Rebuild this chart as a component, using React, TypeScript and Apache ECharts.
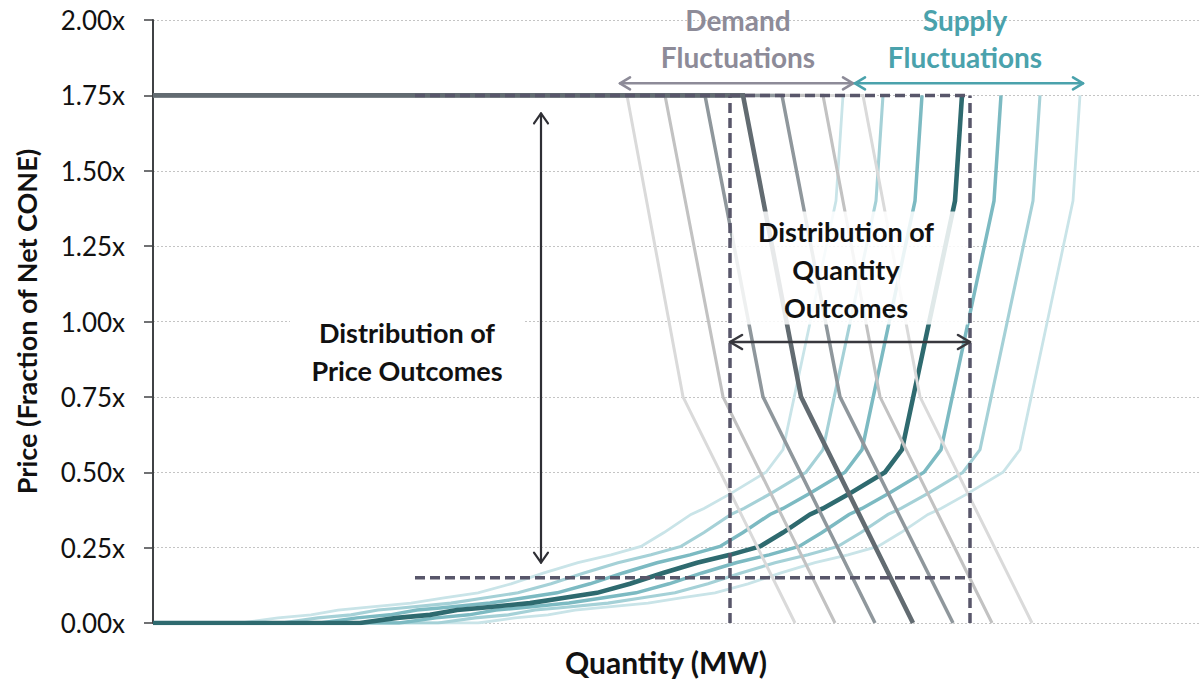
import React, { useEffect, useRef } from "react";
import * as echarts from "echarts";

// ---------- data (quantity in arbitrary MW units, price as fraction of Net CONE) ----------
const priceTickLabels = ["0.00x", "0.25x", "0.50x", "0.75x", "1.00x", "1.25x", "1.50x", "1.75x", "2.00x"];

// Demand curves: shared price breakpoints, quantity per curve
const demandPrices = [1.75, 1.75, 0.75, 0];
const demandM3 = [0, 474, 530, 642];
const demandM2 = [0, 512, 570, 682];
const demandM1 = [0, 552, 610, 722];
const demandC = [0, 590, 648, 760];
const demandP1 = [0, 629, 687, 800];
const demandP2 = [0, 670, 727, 839];
const demandP3 = [0, 710, 767, 879];

// Supply curves: shared price points, quantity per curve
const supplyPrices = [0, 0, 0.017, 0.027, 0.043, 0.05, 0.066, 0.083, 0.1, 0.13, 0.166, 0.2, 0.226, 0.254, 0.3, 0.36, 0.38, 0.43, 0.5, 0.575, 1.4, 1.75];
const supplyM3 = [0, 88, 125, 158, 185, 208, 258, 291, 325, 358, 391, 425, 458, 488, 511, 538, 551, 578, 613, 630, 683, 690];
const supplyM2 = [0, 128, 165, 198, 225, 248, 298, 331, 365, 398, 431, 465, 498, 528, 551, 578, 591, 618, 653, 670, 723, 730];
const supplyM1 = [0, 167, 204, 237, 264, 287, 337, 370, 404, 437, 470, 504, 537, 567, 590, 617, 630, 657, 692, 709, 762, 769];
const supplyC = [0, 207, 244, 277, 304, 327, 377, 410, 444, 477, 510, 544, 577, 607, 630, 657, 670, 697, 732, 749, 802, 809];
const supplyP1 = [0, 246, 283, 316, 343, 366, 416, 449, 483, 516, 549, 583, 616, 646, 669, 696, 709, 736, 771, 788, 841, 848];
const supplyP2 = [0, 285, 322, 355, 382, 405, 455, 488, 522, 555, 588, 622, 655, 685, 708, 735, 748, 775, 810, 827, 880, 887];
const supplyP3 = [0, 325, 362, 395, 422, 445, 495, 528, 562, 595, 628, 662, 695, 725, 748, 775, 788, 815, 850, 867, 920, 927];

// Distribution box (dashed)
const boxQuantityRange = [577, 817];
const boxPriceRange = [0.15, 1.75];
const boxLeftStart = 262;

const X_MAX = 1048;

const FONT = "Lato";

function zip(xs: number[], ys: number[]) {
  return xs.map((x, i) => [x, ys[i]]);
}

export default function App() {
  const ref = useRef<HTMLDivElement>(null);
  useEffect(() => {
    const chart = echarts.init(ref.current!, null, { renderer: "svg" });

    const mk = (name: string, data: number[][], color: string, width: number, z = 2, dash?: any) => ({
      name,
      type: "line",
      data,
      symbol: "none",
      showSymbol: false,
      silent: true,
      z,
      lineStyle: { color, width, type: dash || "solid", cap: "butt", join: "miter" },
      emphasis: { disabled: true },
    });

    const dashCol = "#58566a";
    const series: any[] = [
      mk("S-3", zip(supplyM3, supplyPrices), "#c9e4e8", 2.8),
      mk("S+3", zip(supplyP3, supplyPrices), "#c9e4e8", 2.8),
      mk("S-2", zip(supplyM2, supplyPrices), "#a5d1d7", 3.1),
      mk("S+2", zip(supplyP2, supplyPrices), "#a5d1d7", 3.1),
      mk("S-1", zip(supplyM1, supplyPrices), "#7cbac2", 3.5),
      mk("S+1", zip(supplyP1, supplyPrices), "#7cbac2", 3.5),
      mk("S0", zip(supplyC, supplyPrices), "#2e6a6f", 4.6),
      mk("D-3", zip(demandM3, demandPrices), "#dadada", 3),
      mk("D+3", zip(demandP3, demandPrices), "#dadada", 3),
      mk("D-2", zip(demandM2, demandPrices), "#c2c2c2", 3.1),
      mk("D+2", zip(demandP2, demandPrices), "#c2c2c2", 3.1),
      mk("D-1", zip(demandM1, demandPrices), "#8f979c", 3.5),
      mk("D+1", zip(demandP1, demandPrices), "#8f979c", 3.5),
      mk("D0", zip(demandC, demandPrices), "#626b71", 4.6),
      mk("boxTop", [[boxLeftStart, boxPriceRange[1]], [boxQuantityRange[1], boxPriceRange[1]]], dashCol, 3.5, 5, [10, 5]),
      mk("boxBottom", [[boxLeftStart, boxPriceRange[0]], [boxQuantityRange[1], boxPriceRange[0]]], dashCol, 3.5, 5, [10, 5]),
      mk("boxLeft", [[boxQuantityRange[0], 0], [boxQuantityRange[0], boxPriceRange[1]]], dashCol, 3.5, 5, [10, 5]),
      mk("boxRight", [[boxQuantityRange[1], 0], [boxQuantityRange[1], boxPriceRange[1]]], dashCol, 3.5, 5, [10, 5]),
    ];

    chart.setOption({
      animation: false,
      backgroundColor: "#ffffff",
      grid: { left: 153, right: 0, top: 20, bottom: 60, containLabel: false },
      xAxis: {
        type: "value",
        min: 0,
        max: X_MAX,
        axisLine: { show: false },
        axisTick: { show: false },
        axisLabel: { show: false },
        splitLine: { show: false },
        name: "Quantity (MW)",
        nameLocation: "middle",
        nameGap: 24,
        nameTextStyle: { fontFamily: FONT, fontWeight: "bold", fontSize: 30, color: "#111111", verticalAlign: "top", padding: [0, 22, 0, 0] },
      },
      yAxis: {
        type: "value",
        min: 0,
        max: 2,
        interval: 0.25,
        axisLine: { show: true, lineStyle: { color: "#404245", width: 2 } },
        axisTick: { show: true, length: 9, lineStyle: { color: "#404245", width: 1.5 } },
        axisLabel: {
          formatter: (v: number) => priceTickLabels[Math.round(v / 0.25)],
          fontFamily: FONT,
          fontSize: 26,
          color: "#111111",
          margin: 28,
        },
        splitLine: { show: true, lineStyle: { color: "#c4c4c4", width: 1, type: [2, 2] } },
        name: "Price (Fraction of Net CONE)",
        nameLocation: "middle",
        nameGap: 113,
        nameRotate: 90,
        nameTextStyle: { fontFamily: FONT, fontWeight: "bold", fontSize: 27, color: "#111111" },
      },
      series,
    });

    const px = (x: number, y: number) => chart.convertToPixel({ gridIndex: 0 }, [x, y]) as number[];

    const pl = (pts: number[][], color: string, w: number) => ({
      type: "polyline",
      shape: { points: pts },
      style: { stroke: color, lineWidth: w, fill: null, lineCap: "round", lineJoin: "round" },
      z: 10,
      silent: true,
    });
    const dblArrow = (a: number[], b: number[], color: string, w: number, len: number, half: number) => {
      const dx = b[0] - a[0];
      const dy = b[1] - a[1];
      const L = Math.hypot(dx, dy);
      const ux = dx / L, uy = dy / L;
      const nx = -uy, ny = ux;
      return [
        pl([a, b], color, w),
        pl([[a[0] + ux * len + nx * half, a[1] + uy * len + ny * half], a, [a[0] + ux * len - nx * half, a[1] + uy * len - ny * half]], color, w),
        pl([[b[0] - ux * len + nx * half, b[1] - uy * len + ny * half], b, [b[0] - ux * len - nx * half, b[1] - uy * len - ny * half]], color, w),
      ];
    };
    const txt = (s: string, p: number[], color: string, size: number) => ({
      type: "text",
      x: p[0],
      y: p[1],
      z: 12,
      silent: true,
      style: { text: s, fill: color, fontFamily: FONT, fontWeight: "bold", fontSize: size, align: "center", verticalAlign: "middle" },
    });
    const rect = (p1: number[], p2: number[], fill: string) => ({
      type: "rect",
      z: 3,
      silent: true,
      shape: { x: Math.min(p1[0], p2[0]), y: Math.min(p1[1], p2[1]), width: Math.abs(p2[0] - p1[0]), height: Math.abs(p2[1] - p1[1]) },
      style: { fill },
    });

    const demandCol = "#8d8b98";
    const supplyCol = "#4aa2ac";
    const graphic: any[] = [
      rect(px(boxQuantityRange[0] + 2, 1.365), px(boxQuantityRange[1] - 2, 0.99), "rgba(255,255,255,0.85)"),
      rect(px(137, 1.03), px(370, 0.77), "#ffffff"),
      ...dblArrow(px(388, 1.69), px(388, 0.2), "#2f2f35", 2.2, 10, 7),
      ...dblArrow(px(boxQuantityRange[0], 0.932), px(boxQuantityRange[1], 0.932), "#38383e", 2.6, 12, 7),
      ...dblArrow(px(467, 1.79), px(700, 1.79), demandCol, 2.6, 10, 6),
      ...dblArrow(px(702, 1.79), px(930, 1.79), supplyCol, 2.6, 10, 6),
      txt("Demand", px(585, 2.0), demandCol, 28),
      txt("Fluctuations", px(585, 1.877), demandCol, 28),
      txt("Supply", px(812, 2.0), supplyCol, 28),
      txt("Fluctuations", px(812, 1.877), supplyCol, 28),
      txt("Distribution of", px(254, 0.962), "#111111", 27),
      txt("Price Outcomes", px(254, 0.839), "#111111", 27),
      txt("Distribution of", px(693, 1.297), "#111111", 27),
      txt("Quantity", px(693, 1.171), "#111111", 27),
      txt("Outcomes", px(693, 1.045), "#111111", 27),
    ];
    chart.setOption({ graphic });

    return () => chart.dispose();
  }, []);
  return (
    <div
      ref={ref}
      style={{ position: "fixed", left: 0, top: 0, width: 1201, height: 683, background: "#ffffff" }}
    />
  );
}
